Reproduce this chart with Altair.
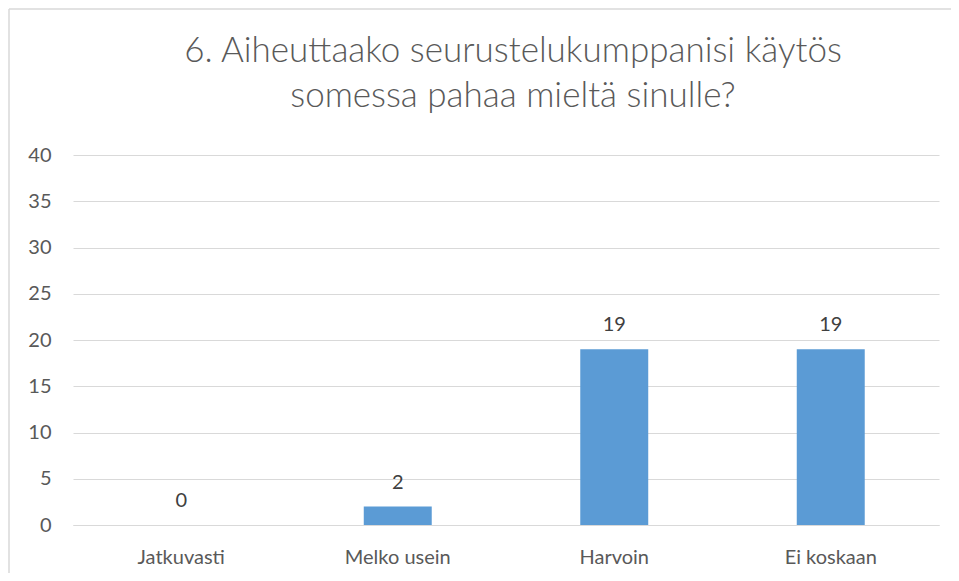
import altair as alt
import pandas as pd

categories = ["Jatkuvasti", "Melko usein", "Harvoin", "Ei koskaan"]
values = [0, 2, 19, 19]
y_ticks = [0, 5, 10, 15, 20, 25, 30, 35, 40]
title_lines = ["6. Aiheuttaako seurustelukumppanisi käytös", "somessa pahaa mieltä sinulle?"]

df = pd.DataFrame({"cat": categories, "val": values})

W, H = 866, 370
FONT = "Lato"
GREY = "#595959"
LINE = "#d9d9d9"

x = alt.X("cat:N", sort=categories, title=None,
          scale=alt.Scale(paddingInner=0.686, paddingOuter=0.343),
          axis=alt.Axis(labelAngle=0, labelFont=FONT, labelFontSize=20, labelColor=GREY,
                        labelPadding=22, ticks=False, domainColor=LINE, domainWidth=1))
y = alt.Y("val:Q", title=None,
          scale=alt.Scale(domain=[0, 40], nice=False),
          axis=alt.Axis(values=y_ticks, labelFont=FONT, labelFontSize=20, labelColor=GREY,
                        labelPadding=22, ticks=False, domain=False,
                        gridColor=LINE, gridWidth=1))

bars = alt.Chart(df).mark_bar(color="#5B9BD5").encode(x=x, y=y)
labels = alt.Chart(df).mark_text(baseline="bottom", dy=-14, font=FONT, fontSize=20,
                                 color="#404040").encode(x=x, y=y, text="val:Q")

top_edge = alt.Chart(df.head(1)).mark_rule(color=LINE, strokeWidth=1.5, clip=False).encode(
    x=alt.value(-64), x2=alt.value(W + 20), y=alt.value(-146))
left_edge = alt.Chart(df.head(1)).mark_rule(color=LINE, strokeWidth=1.5, clip=False).encode(
    x=alt.value(-64), y=alt.value(-146), y2=alt.value(H + 60))

title = alt.Chart(df.head(1)).mark_text(
    text=title_lines, font=FONT, fontSize=35, fontWeight=300, color=GREY,
    lineHeight=45, align="center", baseline="alphabetic").encode(
    x=alt.value(W / 2 + 7), y=alt.value(-93))

chart = alt.layer(top_edge, left_edge, title, bars, labels).properties(
    width=W, height=H,
    background="white",
    autosize=alt.AutoSizeParams(type="none"),
    padding={"left": 65, "top": 147, "right": 12, "bottom": 48},
).configure_view(strokeWidth=0, stroke="transparent")

chart.save("out.html", embed_options={"renderer": "svg", "actions": False})
